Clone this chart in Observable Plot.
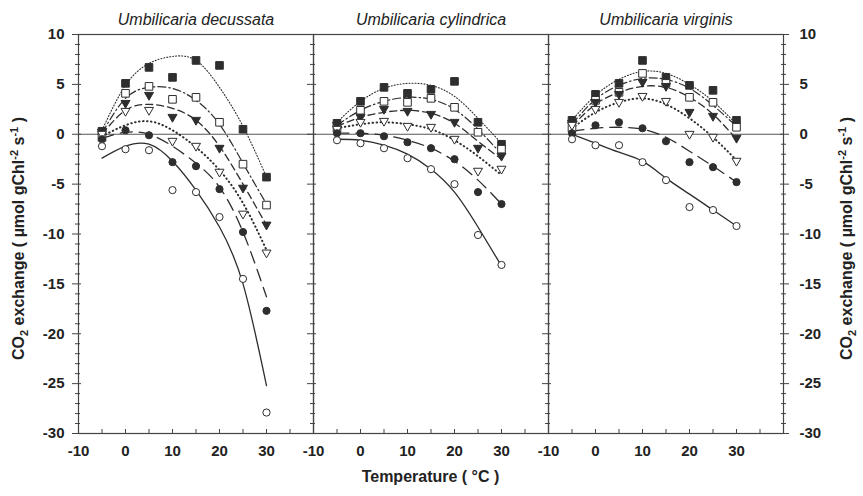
<!DOCTYPE html>
<html><head><meta charset="utf-8">
<script src="https://cdn.jsdelivr.net/npm/d3@7"></script>
<script src="https://cdn.jsdelivr.net/npm/@observablehq/plot@0.6"></script>
<style>
body{margin:0;background:#fff}
svg{font-family:"Liberation Sans",Arial,sans-serif}
</style>
</head><body><div id="chart"></div>
<script>
// ---- data ----
const species = ["Umbilicaria decussata", "Umbilicaria cylindrica", "Umbilicaria virginis"];
const temps = [-5, 0, 5, 10, 15, 20, 25, 30];
const seriesKeys = ["filledSquare", "openSquare", "filledTriangle", "openTriangle", "filledCircle", "openCircle"];
const xTickLabels = [-10, 0, 10, 20, 30];
const yTickLabels = [-30, -25, -20, -15, -10, -5, 0, 5, 10];

// measured points, one row per series (order of seriesKeys), one value per temperature
const decussataPoints = [
  [0.3, 5.1, 6.7, 5.7, 7.4, 6.9, 0.5, -4.3],
  [-0.3, 4.1, 4.8, 3.5, 3.7, 1.2, -3.0, -7.1],
  [0.1, 3.0, 3.8, 1.6, 1.3, -1.5, -5.5, -9.2],
  [-0.1, 2.2, 2.3, -0.8, -1.3, -3.9, -8.1, -12.0],
  [-0.5, 0.4, -0.1, -2.8, -3.2, -5.5, -9.8, -17.7],
  [-1.2, -1.5, -1.6, -5.6, -5.8, -8.3, -14.5, -27.9]
];
const cylindricaPoints = [
  [1.1, 3.3, 4.7, 4.1, 4.5, 5.3, 1.2, -1.0],
  [0.6, 2.4, 3.3, 3.2, 3.6, 2.7, 0.2, -1.5],
  [0.8, 1.6, 2.4, 2.2, 1.9, 1.1, -1.5, -2.3],
  [0.4, 1.1, 1.2, 0.7, 0.6, -0.6, -3.8, -3.6],
  [0.1, 0.1, -0.2, -0.8, -1.4, -2.5, -5.8, -7.0],
  [-0.6, -0.9, -1.4, -2.4, -3.5, -5.0, -10.1, -13.1]
];
const virginisPoints = [
  [1.4, 4.0, 5.1, 7.4, 5.7, 4.9, 4.4, 1.4],
  [0.6, 3.4, 4.2, 6.1, 5.1, 3.7, 3.2, 0.7],
  [1.0, 3.1, 3.9, 5.1, 4.7, 2.1, 1.7, -0.5],
  [0.8, 2.4, 3.1, 3.7, 3.2, -0.1, -0.4, -2.8],
  [0.1, 0.9, 1.2, 0.6, -0.7, -2.8, -3.3, -4.8],
  [-0.5, -1.1, -1.1, -2.8, -4.6, -7.3, -7.6, -9.2]
];
// fitted curves at the same temperatures
const decussataCurves = [
  [0.4, 4.9, 7.1, 7.8, 7.4, 4.7, 0.8, -4.3],
  [0.1, 3.6, 4.7, 4.6, 3.4, 1.0, -2.9, -7.0],
  [0.0, 2.4, 3.0, 2.6, 1.4, -1.2, -5.0, -9.1],
  [-0.2, 0.9, 1.3, 0.4, -1.3, -3.6, -6.9, -11.6],
  [-0.4, 0.2, 0.0, -1.2, -2.9, -5.3, -9.8, -16.3],
  [-2.4, -1.2, -1.0, -2.7, -5.6, -9.3, -15.0, -25.2]
];
const cylindricaCurves = [
  [1.2, 3.3, 4.6, 5.1, 4.9, 3.8, 1.6, -0.9],
  [0.9, 2.4, 3.3, 3.7, 3.5, 2.5, 0.5, -2.0],
  [0.8, 1.7, 2.2, 2.4, 2.1, 1.1, -0.7, -2.5],
  [0.6, 1.0, 1.2, 1.0, 0.5, -0.6, -2.2, -4.1],
  [0.1, 0.1, -0.1, -0.6, -1.4, -2.7, -4.6, -7.0],
  [-0.5, -0.6, -1.1, -2.0, -3.5, -5.8, -9.3, -13.2]
];
const virginisCurves = [
  [1.4, 3.9, 5.5, 6.3, 6.1, 5.0, 3.3, 1.0],
  [1.0, 3.5, 4.9, 5.6, 5.5, 4.6, 2.9, 0.8],
  [0.8, 3.0, 4.2, 4.8, 4.7, 3.7, 2.0, -0.5],
  [0.6, 2.2, 3.2, 3.6, 3.0, 1.6, -0.3, -2.6],
  [0.3, 0.6, 0.7, 0.5, -0.3, -1.7, -3.2, -4.8],
  [0.0, -0.9, -1.8, -2.7, -4.4, -6.0, -7.6, -9.2]
];

// ---- build tables ----
const pointsBySpecies = [decussataPoints, cylindricaPoints, virginisPoints];
const curvesBySpecies = [decussataCurves, cylindricaCurves, virginisCurves];
const pointRows = [], curveRows = [];
species.forEach((sp, i) => seriesKeys.forEach((s, j) => {
  temps.forEach((t, k) => pointRows.push({sp, s, t, v: pointsBySpecies[i][j][k]}));
  temps.forEach((t, k) => curveRows.push({sp, s, t, v: curvesBySpecies[i][j][k]}));
}));

const W = 863, H = 496, mL = 78, mR = 80, mT = 34, mB = 63;
const panelW = (W - mL - mR) / 3;
const panelH = H - mT - mB;
const ink = "#2e2e2e";
const minorY = d3.range(-30, 11, 1).filter(d => d % 5 !== 0);
const majorY = yTickLabels;
const xTicks = d3.range(-10, 41, 5);

const sq = {draw(ctx, size) { const a = Math.sqrt(size / Math.PI); ctx.rect(-a, -a, 2 * a, 2 * a); }};
const triDown = {draw(ctx, size) {
  const r = Math.sqrt(size / Math.PI); const w = 2.3 * r, h = 2.0 * r;
  ctx.moveTo(-w / 2, -h / 2); ctx.lineTo(w / 2, -h / 2); ctx.lineTo(0, h / 2); ctx.closePath();
}};

const lineStyles = {
  filledSquare:   {strokeDasharray: "1,2", strokeWidth: 1.1},
  openSquare:     {strokeDasharray: "8,3,1.5,3", strokeWidth: 1.2},
  filledTriangle: {strokeDasharray: "7,4", strokeWidth: 1.3},
  openTriangle:   {strokeDasharray: "0.5,3.5", strokeWidth: 2, strokeLinecap: "round"},
  filledCircle:   {strokeDasharray: "12,7", strokeWidth: 1.3},
  openCircle:     {strokeWidth: 1.3}
};
const markerStyles = {
  filledSquare:   {symbol: sq, r: 3.8, fill: ink},
  openSquare:     {symbol: sq, r: 3.8, fill: "white"},
  filledTriangle: {symbol: triDown, r: 3.9, fill: ink},
  openTriangle:   {symbol: triDown, r: 3.9, fill: "white"},
  filledCircle:   {symbol: "circle", r: 3.6, fill: ink},
  openCircle:     {symbol: "circle", r: 3.6, fill: "white"}
};

const fmt = d => String(d);
const txt = {fontSize: 15, fontWeight: "bold", fill: "#222"};

const marks = [
  Plot.frame({stroke: "#444", strokeWidth: 1.2}),
  Plot.ruleY([0], {stroke: "#555", strokeWidth: 1}),
  Plot.tickY(minorY, {insetLeft: -3, insetRight: panelW - 2, stroke: "#444"}),
  Plot.tickY(majorY, {insetLeft: -6, insetRight: panelW - 3, stroke: "#444"}),
  Plot.tickY(minorY.map(v => ({v, sp: species[2]})), {y: "v", fx: "sp", insetLeft: panelW - 2, insetRight: -3, stroke: "#444"}),
  Plot.tickY(majorY.map(v => ({v, sp: species[2]})), {y: "v", fx: "sp", insetLeft: panelW - 3, insetRight: -6, stroke: "#444"}),
  Plot.tickX(xTicks, {insetTop: panelH - 4, stroke: "#444"})
];
seriesKeys.forEach(s => {
  marks.push(Plot.line(curveRows.filter(d => d.s === s), {x: "t", y: "v", fx: "sp", curve: "natural", stroke: ink, ...lineStyles[s]}));
});
seriesKeys.forEach(s => {
  marks.push(Plot.dot(pointRows.filter(d => d.s === s), {x: "t", y: "v", fx: "sp", stroke: ink, strokeWidth: 1, ...markerStyles[s]}));
});
marks.push(
  Plot.axisX({ticks: xTickLabels, tickSize: 0, tickPadding: 12, tickFormat: fmt, label: null, ...txt}),
  Plot.axisY({anchor: "left", ticks: yTickLabels, tickSize: 0, tickPadding: 14, tickFormat: fmt, label: null, ...txt}),
  Plot.axisY({anchor: "right", ticks: yTickLabels, tickSize: 0, tickPadding: 16, tickFormat: fmt, label: null, ...txt}),
  Plot.axisFx({anchor: "top", tickSize: 0, tickPadding: 10, label: null, fontSize: 16, fontStyle: "italic", fill: "#222"})
);

const svg = Plot.plot({
  width: W, height: H,
  marginLeft: mL, marginRight: mR, marginTop: mT, marginBottom: mB,
  style: {fontFamily: "'Liberation Sans', Arial, sans-serif", background: "white"},
  fx: {domain: species, padding: 0, label: null},
  x: {domain: [-10, 40]},
  y: {domain: [-30, 10]},
  marks
});
document.getElementById("chart").appendChild(svg);

// axis titles with sub/superscripts
const s = d3.select(svg);
function yTitle(x) {
  const t = s.append("text")
    .attr("transform", `translate(${x},${mT + panelH / 2 + 5}) rotate(-90)`)
    .attr("text-anchor", "middle").attr("font-size", 16).attr("font-weight", "bold").attr("fill", "#222");
  t.append("tspan").text("CO");
  t.append("tspan").attr("font-size", 11).attr("dy", 4).text("2");
  t.append("tspan").attr("dy", -4).text(" exchange ( µmol gChl");
  t.append("tspan").attr("font-size", 11).attr("dy", -6).text("-2");
  t.append("tspan").attr("dy", 6).text(" s");
  t.append("tspan").attr("font-size", 11).attr("dy", -6).text("-1");
  t.append("tspan").attr("dy", 6).text(" )");
}
yTitle(24);
yTitle(852);
s.append("text").attr("x", mL + (W - mL - mR) / 2).attr("y", 482)
  .attr("text-anchor", "middle").attr("font-size", 16).attr("font-weight", "bold").attr("fill", "#222")
  .text("Temperature ( °C )");
</script>
</body></html>
